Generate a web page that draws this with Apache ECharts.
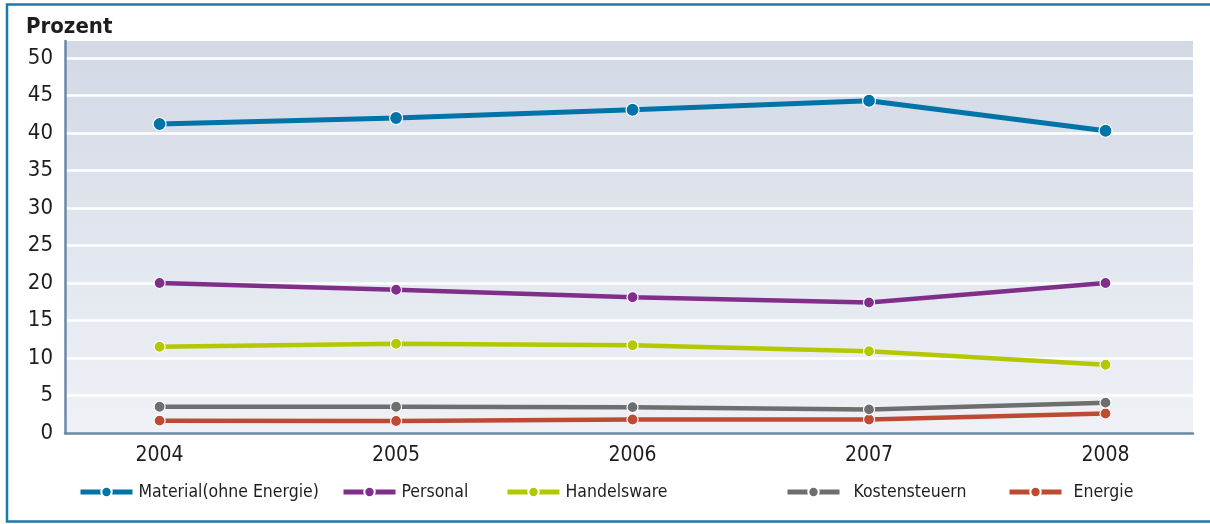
<!DOCTYPE html>
<html>
<head>
<meta charset="utf-8">
<script src="https://cdn.jsdelivr.net/npm/echarts@6/dist/echarts.min.js"></script>
<style>
html,body{margin:0;padding:0;background:#fff;}
#chart{width:1210px;height:524px;}
</style>
</head>
<body>
<div id="chart"></div>
<script>
const years = [2004, 2005, 2006, 2007, 2008];
const seriesNames = ['Material(ohne Energie)', 'Personal', 'Handelsware', 'Kostensteuern', 'Energie'];
const material = [41.2, 42.0, 43.1, 44.3, 40.3];
const personal = [20.0, 19.1, 18.1, 17.4, 20.0];
const handelsware = [11.5, 11.9, 11.7, 10.9, 9.1];
const kostensteuern = [3.5, 3.5, 3.45, 3.15, 4.05];
const energie = [1.65, 1.6, 1.8, 1.8, 2.6];
const yTicks = [0, 5, 10, 15, 20, 25, 30, 35, 40, 45, 50];

const FONT = '"Liberation Sans Narrow", "DejaVu Sans Condensed", "Roboto", sans-serif';
const colors = ['#0073a8', '#7f2f8a', '#b4c800', '#6e6e6e', '#bd4a33'];
const allValues = [material, personal, handelsware, kostensteuern, energie];
const legendLeft = [78, 341, 505, 785, 1007];
const legendTextPad = [1, 1, 1, 9, 7];

const chart = echarts.init(document.getElementById('chart'), null, {renderer: 'canvas'});

const series = seriesNames.map((name, i) => ({
  name: name,
  type: 'line',
  data: years.map((y, k) => [y, allValues[i][k]]),
  symbol: 'circle',
  symbolSize: i === 0 ? 13 : 11,
  lineStyle: {color: colors[i], width: i === 0 ? 5 : 4.5},
  itemStyle: {color: colors[i], borderColor: '#ffffff', borderWidth: 1.2},
  emphasis: {disabled: true},
  z: 10 - i
}));

const legends = seriesNames.map((name, i) => ({
  data: [name],
  left: legendLeft[i],
  top: 483,
  itemWidth: 52,
  itemHeight: 13,
  itemGap: 10,
  lineStyle: {width: 5},
  textStyle: {fontFamily: FONT, fontSize: 17.5, color: '#1e1e1e', padding: [0, 0, 0, legendTextPad[i]]},
  selectedMode: false,
  padding: 0
}));

chart.setOption({
  animation: false,
  backgroundColor: '#ffffff',
  title: {
    text: 'Prozent',
    left: 26,
    top: 16,
    padding: 0,
    textStyle: {fontFamily: FONT, fontSize: 22, fontWeight: 'bold', color: '#1e1e1e'}
  },
  graphic: [{
    type: 'rect',
    shape: {x: 7, y: 4.5, width: 1240, height: 517},
    style: {fill: null, stroke: '#1a7aab', lineWidth: 2.5},
    silent: true,
    z: 100
  }],
  legend: legends,
  grid: {
    left: 65, right: 17, top: 41, bottom: 91,
    show: true,
    borderWidth: 0,
    backgroundColor: new echarts.graphic.LinearGradient(0, 0, 0, 1, [
      {offset: 0, color: '#d2d9e5'},
      {offset: 1, color: '#eff1f6'}
    ])
  },
  xAxis: {
    type: 'value',
    min: 2003.6,
    max: 2008.37,
    axisLine: {show: true, lineStyle: {color: '#6a88a6', width: 2.5}},
    axisTick: {show: false},
    splitLine: {show: false},
    axisLabel: {
      customValues: years,
      margin: 12,
      fontFamily: FONT,
      fontSize: 21,
      color: '#1e1e1e',
      formatter: v => String(v)
    }
  },
  yAxis: {
    type: 'value',
    min: 0,
    max: 52.27,
    interval: 5,
    axisLine: {show: true, lineStyle: {color: '#6a88a6', width: 2.5}},
    axisTick: {show: false},
    splitLine: {show: true, showMaxLine: false, showMinLine: false, lineStyle: {color: '#ffffff', width: 2.5}},
    axisLabel: {
      margin: 12,
      fontFamily: FONT,
      fontSize: 22,
      color: '#1e1e1e',
      formatter: v => (yTicks.indexOf(v) >= 0 ? String(v) : '')
    }
  },
  series: series
});
</script>
</body>
</html>
